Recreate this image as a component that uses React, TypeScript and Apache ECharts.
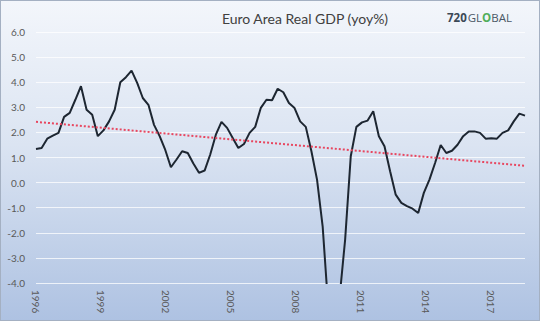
import React, { useEffect, useRef } from "react";
import * as echarts from "echarts";

// Quarterly categories 1996Q1 .. 2017Q4
const years: number[] = [];
for (let y = 1996; y <= 2017; y++) years.push(y);
const categories: string[] = [];
years.forEach((y) => {
  ["Q1", "Q2", "Q3", "Q4"].forEach((q) => categories.push(`${y}${q}`));
});

// Euro Area real GDP, yoy %
const gdp: number[] = [
  1.34, 1.38, 1.75, 1.87, 1.98, 2.62, 2.78, 3.3, 3.84, 2.9,
  2.7, 1.85, 2.08, 2.44, 2.9, 4.0, 4.2, 4.46, 3.97, 3.37,
  3.1, 2.3, 1.85, 1.3, 0.61, 0.92, 1.25, 1.18, 0.76, 0.39,
  0.48, 1.12, 1.91, 2.42, 2.18, 1.78, 1.38, 1.54, 1.98, 2.22,
  2.98, 3.3, 3.28, 3.74, 3.6, 3.17, 2.97, 2.44, 2.22, 1.25,
  0.12, -1.74, -5.0, -5.5, -4.6, -2.27, 1.05, 2.22, 2.4, 2.47,
  2.84, 1.85, 1.45, 0.45, -0.48, -0.81, -0.94, -1.04, -1.21, -0.41,
  0.12, 0.78, 1.5, 1.18, 1.27, 1.51, 1.85, 2.04, 2.04, 1.98,
  1.75, 1.77, 1.75, 1.98, 2.08, 2.44, 2.75, 2.67,
];

// Linear trend line end points
const trendStart = 2.42;
const trendEnd = 0.67;

// X tick labels
const tickLabels: string[] = ["1996", "1999", "2002", "2005", "2008", "2011", "2014", "2017"];

const TITLE = "Euro Area Real GDP (yoy%)";

export default function App() {
  const ref = useRef<HTMLDivElement>(null);
  useEffect(() => {
    if (!ref.current) return;
    const chart = echarts.init(ref.current, null, { renderer: "svg" });
    const labelColor = "#595959";
    const font = "Lato, 'Open Sans', sans-serif";
    chart.setOption({
      animation: false,
      backgroundColor: "transparent",
      textStyle: { fontFamily: font },
      grid: { left: 36, right: 15, top: 32, bottom: 38, containLabel: false },
      xAxis: [
        {
          type: "category",
          data: categories,
          boundaryGap: false,
          axisLine: { show: false },
          axisTick: { show: false },
          axisLabel: { show: false },
          splitLine: { show: false },
        },
        {
          type: "value",
          position: "bottom",
          min: 0,
          max: 22.57,
          interval: 3,
          axisLine: { show: false },
          axisTick: { show: false },
          splitLine: { show: false },
          axisLabel: {
            rotate: -90,
            margin: 7,
            color: labelColor,
            fontSize: 10,
            fontFamily: font,
            showMaxLabel: false,
            formatter: (v: number) => {
              const k = Math.round(v / 3);
              return Math.abs(v / 3 - k) < 1e-6 ? tickLabels[k] ?? "" : "";
            },
          },
        },
      ],
      yAxis: {
        type: "value",
        min: -4,
        max: 6,
        interval: 1,
        axisLine: { show: false },
        axisTick: { show: false },
        axisLabel: {
          color: labelColor,
          fontSize: 10,
          margin: 11,
          fontFamily: font,
          formatter: (v: number) => v.toFixed(1),
        },
        splitLine: { lineStyle: { color: "rgba(255,255,255,0.75)", width: 1 } },
      },
      series: [
        {
          type: "line",
          xAxisIndex: 0,
          data: gdp,
          symbol: "none",
          clip: true,
          lineStyle: { color: "#1d2631", width: 2 },
        },
        {
          type: "line",
          xAxisIndex: 0,
          data: [
            [categories[0], trendStart],
            [categories[categories.length - 1], trendEnd],
          ],
          symbol: "none",
          lineStyle: { color: "#e8465f", width: 2, type: [2, 2] },
        },
      ],
      graphic: [
        {
          type: "text",
          x: 305,
          y: 18,
          style: {
            text: TITLE,
            fill: "#404040",
            font: `14px ${font}`,
            align: "center",
            verticalAlign: "middle",
          },
        },
        {
          type: "text",
          x: 447,
          y: 17,
          style: {
            text: "{a|720}{b|GL}{o|O}{b|BAL}",
            verticalAlign: "middle",
            align: "left",
            rich: {
              a: { fontSize: 11.5, fontWeight: "bold", fill: "#3b4856", fontFamily: "'Open Sans', sans-serif", padding: [0, 1, 0, 0] },
              b: { fontSize: 11.5, fontWeight: "normal", fill: "#4a5765", fontFamily: "'Open Sans', sans-serif" },
              o: { fontSize: 11.5, fontWeight: "bold", fill: "#4fae5a", fontFamily: "'Open Sans', sans-serif" },
            },
          },
        },
      ],
    });
    return () => chart.dispose();
  }, []);
  return (
    <div
      style={{
        position: "fixed",
        left: 0,
        top: 0,
        width: 540,
        height: 321,
        boxSizing: "border-box",
        border: "1px solid #a4b0c2",
        background: "linear-gradient(to bottom, #f3f6fb 0%, #dbe4f2 45%, #aec2e2 100%)",
      }}
    >
      <div ref={ref} style={{ position: "absolute", left: -1, top: -1, width: 540, height: 321 }} />
    </div>
  );
}
